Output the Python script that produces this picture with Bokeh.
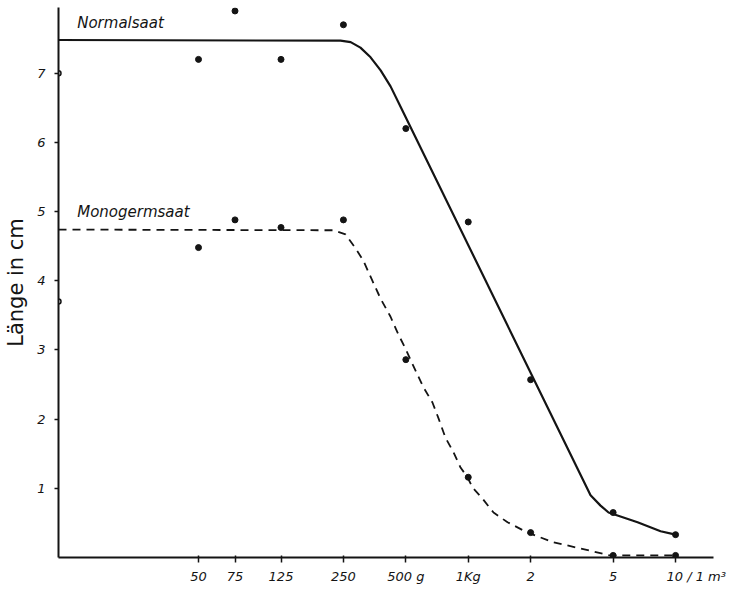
from bokeh.plotting import figure
from bokeh.models import FixedTicker, Label, Range1d
from bokeh.embed import file_html
from bokeh.resources import INLINE

# ---- data ----
tick_amounts = [50, 75, 125, 250, 500, 1000, 2000, 5000, 10000]
NB = "\u00a0"
tick_labels = ["50", "75", "125", "250", "500 g", "1Kg", "2", "5",
               NB * 10 + "10 / 1 m³"]

normal_control = 7.0
normal_values = [7.2, 7.9, 7.2, 7.7, 6.2, 4.85, 2.57, 0.65, 0.33]
mono_control = 3.7
mono_values = [4.48, 4.88, 4.77, 4.88, 2.86, 1.16, 0.36, 0.03, 0.03]

normal_level = 7.48
normal_curve_x = [242, 271, 302, 338, 378, 422, 471, 3890, 4347, 4752, 6557, 8469, 10000]
normal_curve_y = [7.47, 7.45, 7.37, 7.23, 7.04, 6.81, 6.52, 0.90, 0.75, 0.65, 0.51, 0.38, 0.33]
mono_level = 4.74
mono_curve_x = [224, 256, 286, 312, 346, 378, 422, 461, 498, 557, 608, 672, 719, 777,
                849, 918, 992, 1049, 1172, 1324, 1547, 1932, 2578, 3367, 4809, 10000]
mono_curve_y = [4.73, 4.67, 4.47, 4.29, 3.99, 3.74, 3.48, 3.22, 3.02, 2.70, 2.46, 2.24, 2.01, 1.73,
                1.52, 1.30, 1.16, 1.01, 0.85, 0.65, 0.51, 0.36, 0.22, 0.14, 0.03, 0.03]

X_START, X_END = 10.56, 15240
Y_START, Y_END = 0, 7.95

INK = "#141414"
FONT = "DejaVu Sans"

p = figure(width=734, height=590, x_axis_type="log",
           x_range=Range1d(X_START, X_END), y_range=Range1d(Y_START, Y_END),
           output_backend="svg", toolbar_location=None,
           min_border_left=58, min_border_right=21, min_border_top=7, min_border_bottom=33)
p.outline_line_color = None
p.grid.visible = False
p.background_fill_color = "white"
p.border_fill_color = "white"

# fitted curves
p.line([X_START] + normal_curve_x, [normal_level] + normal_curve_y,
       line_color=INK, line_width=2.2, line_join="round")
p.line([X_START] + mono_curve_x, [mono_level] + mono_curve_y,
       line_color=INK, line_width=1.8, line_dash="8 6", line_join="round")

# measured points
p.scatter(tick_amounts, normal_values, size=6, color=INK)
p.scatter(tick_amounts, mono_values, size=6, color=INK)
p.scatter([X_START, X_START], [normal_control, mono_control], size=5,
          fill_color="white", line_color=INK, line_width=1.5)

# axes
xa = p.xaxis[0]
xa.ticker = FixedTicker(ticks=tick_amounts, minor_ticks=[])
xa.major_label_overrides = {t: l for t, l in zip(tick_amounts, tick_labels)}
ya = p.yaxis[0]
ya.ticker = FixedTicker(ticks=[1, 2, 3, 4, 5, 6, 7], minor_ticks=[])
for ax in (xa, ya):
    ax.axis_line_color = INK
    ax.axis_line_width = 2
    ax.major_tick_line_color = INK
    ax.major_tick_line_width = 1.5
    ax.minor_tick_line_color = None
    ax.major_label_text_font = FONT
    ax.major_label_text_font_style = "italic"
    ax.major_label_text_font_size = "13px"
    ax.major_label_text_color = INK
xa.major_tick_out = 5
xa.major_tick_in = 2
xa.major_label_standoff = 6
ya.major_tick_out = 4
ya.major_tick_in = 0
ya.major_label_standoff = 9
ya.axis_label = "Länge in cm"
ya.axis_label_text_font = FONT
ya.axis_label_text_font_style = "normal"
ya.axis_label_text_font_size = "21px"
ya.axis_label_text_color = INK
ya.axis_label_standoff = 6

# series labels
p.add_layout(Label(x=13.0, y=7.60, text="Normalsaat", text_font=FONT,
                   text_font_style="italic", text_font_size="15px", text_color=INK))
p.add_layout(Label(x=13.0, y=4.86, text="Monogermsaat", text_font=FONT,
                   text_font_style="italic", text_font_size="15px", text_color=INK))

open("out.html", "w").write(file_html(p, INLINE))
